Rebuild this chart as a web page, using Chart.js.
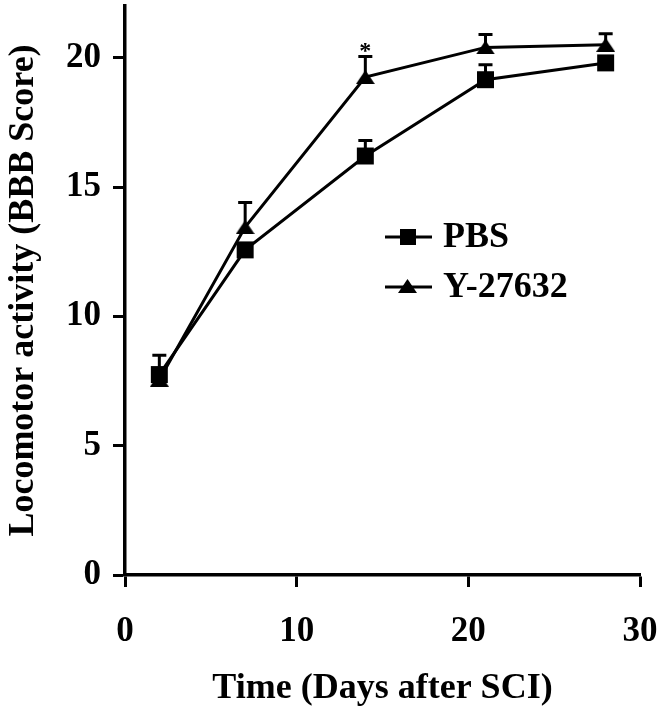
<!DOCTYPE html>
<html>
<head>
<meta charset="utf-8">
<script src="https://cdn.jsdelivr.net/npm/chart.js@4.4.1/dist/chart.umd.min.js"></script>
<style>
  html, body { margin: 0; padding: 0; background: #fff; }
  #wrap { width: 664px; height: 720px; position: relative; }
</style>
</head>
<body>
<div id="wrap"><canvas id="bbbChart"></canvas></div>
<script>
const days = [2, 7, 14, 21, 28];
const pbsScores = [7.75, 12.57, 16.2, 19.15, 19.8];
const pbsErrors = [0.75, 0.2, 0.6, 0.58, 0.1];
const rockScores = [7.55, 13.45, 19.25, 20.4, 20.5];
const rockErrors = [0.3, 0.95, 0.8, 0.5, 0.43];
const yTicks = [0, 5, 10, 15, 20];
const xTicks = [0, 10, 20, 30];
const seriesNames = ['PBS', 'Y-27632'];
const significantIndex = 2;

const serifFamily = "'Liberation Serif', 'Times New Roman', serif";
const tickFont = { family: serifFamily, weight: 'bold', size: 35 };
const titleFont = { family: serifFamily, weight: 'bold', size: 36 };

// triangle marker centred in its box, like the Excel one
const makeTriangle = (w, h) => {
    const c = document.createElement('canvas');
    c.width = w;
    c.height = h;
    const g = c.getContext('2d');
    g.fillStyle = '#000';
    g.beginPath();
    g.moveTo(w / 2, 0);
    g.lineTo(w, h);
    g.lineTo(0, h);
    g.closePath();
    g.fill();
    return c;
};
const triangleMarker = makeTriangle(19, 14);

const toPoints = (xs, ys) => xs.map((x, i) => ({ x: x, y: ys[i] }));

// drop the extra room chart.js keeps for half tick labels
const noScalePadding = (scale) => {
    scale.paddingTop = 0;
    scale.paddingBottom = 0;
    scale.paddingLeft = 0;
    scale.paddingRight = 0;
};

const errorBars = {
    id: 'errorBars',
    afterDatasetsDraw(chart) {
        const ctx = chart.ctx;
        const yScale = chart.scales.y;
        ctx.save();
        ctx.strokeStyle = '#000';
        ctx.lineWidth = 3;
        chart.data.datasets.forEach((ds, di) => {
            const meta = chart.getDatasetMeta(di);
            meta.data.forEach((pt, i) => {
                const err = ds.errors[i];
                if (!err) return;
                const top = yScale.getPixelForValue(ds.data[i].y + err);
                ctx.beginPath();
                ctx.moveTo(pt.x, pt.y);
                ctx.lineTo(pt.x, top);
                ctx.moveTo(pt.x - 7, top);
                ctx.lineTo(pt.x + 7, top);
                ctx.stroke();
            });
        });
        // significance mark
        const sig = chart.getDatasetMeta(1).data[significantIndex];
        const ds = chart.data.datasets[1];
        const top = yScale.getPixelForValue(ds.data[significantIndex].y + ds.errors[significantIndex]);
        ctx.fillStyle = '#000';
        ctx.font = "bold 24px " + serifFamily;
        ctx.textAlign = 'center';
        ctx.textBaseline = 'alphabetic';
        ctx.fillText('*', sig.x, top + 2);
        ctx.restore();
    }
};

const lineLegend = {
    id: 'lineLegend',
    afterDraw(chart) {
        const ctx = chart.ctx;
        const rows = [237, 287];
        ctx.save();
        chart.data.datasets.forEach((ds, i) => {
            const y = rows[i];
            ctx.strokeStyle = '#000';
            ctx.lineWidth = 3;
            ctx.beginPath();
            ctx.moveTo(385, y);
            ctx.lineTo(432, y);
            ctx.stroke();
            ctx.fillStyle = '#000';
            if (i === 0) {
                ctx.fillRect(400, y - 8, 16, 16);
            } else {
                ctx.drawImage(triangleMarker, 398, y - 8);
            }
            ctx.font = "bold 36px " + serifFamily;
            ctx.textAlign = 'left';
            ctx.textBaseline = 'middle';
            ctx.fillText(ds.label, 443, y + 1);
        });
        ctx.restore();
    }
};

new Chart(document.getElementById('bbbChart').getContext('2d'), {
    type: 'line',
    data: {
        datasets: [{
            label: seriesNames[0],
            data: toPoints(days, pbsScores),
            errors: pbsErrors,
            borderColor: '#000',
            backgroundColor: '#000',
            borderWidth: 3,
            pointStyle: 'rect',
            pointRadius: 12,
            pointBorderWidth: 0,
            tension: 0
        }, {
            label: seriesNames[1],
            data: toPoints(days, rockScores),
            errors: rockErrors,
            borderColor: '#000',
            backgroundColor: '#000',
            borderWidth: 3,
            pointStyle: triangleMarker,
            pointRadius: 10,
            tension: 0
        }]
    },
    options: {
        responsive: true,
        maintainAspectRatio: false,
        animation: false,
        layout: { autoPadding: false, padding: { top: 6, right: 24, left: 0, bottom: 0 } },
        plugins: {
            legend: { display: false },
            tooltip: { enabled: false }
        },
        scales: {
            x: {
                type: 'linear',
                min: 0,
                max: 30,
                afterFit: (scale) => { scale.height = 145; noScalePadding(scale); },
                afterBuildTicks: (scale) => { scale.ticks = xTicks.map(v => ({ value: v })); },
                border: { color: '#000', width: 3.5 },
                grid: { drawOnChartArea: false, tickLength: 12, tickWidth: 3, tickColor: '#000' },
                ticks: { color: '#000', font: tickFont, padding: 24, maxRotation: 0 },
                title: { display: true, text: 'Time (Days after SCI)', color: '#000', font: titleFont, padding: { top: 0, bottom: 10 } }
            },
            y: {
                min: 0,
                max: 22,
                afterFit: (scale) => { scale.width = 125; noScalePadding(scale); },
                afterBuildTicks: (scale) => { scale.ticks = yTicks.map(v => ({ value: v })); },
                border: { color: '#000', width: 3.5 },
                grid: { drawOnChartArea: false, tickLength: 12, tickWidth: 3, tickColor: '#000' },
                ticks: { color: '#000', font: tickFont, padding: 12 },
                title: { display: true, text: 'Locomotor activity (BBB Score)', color: '#000', font: titleFont, padding: { top: 2, bottom: 0 } }
            }
        }
    },
    plugins: [errorBars, lineLegend]
});
</script>
</body>
</html>
